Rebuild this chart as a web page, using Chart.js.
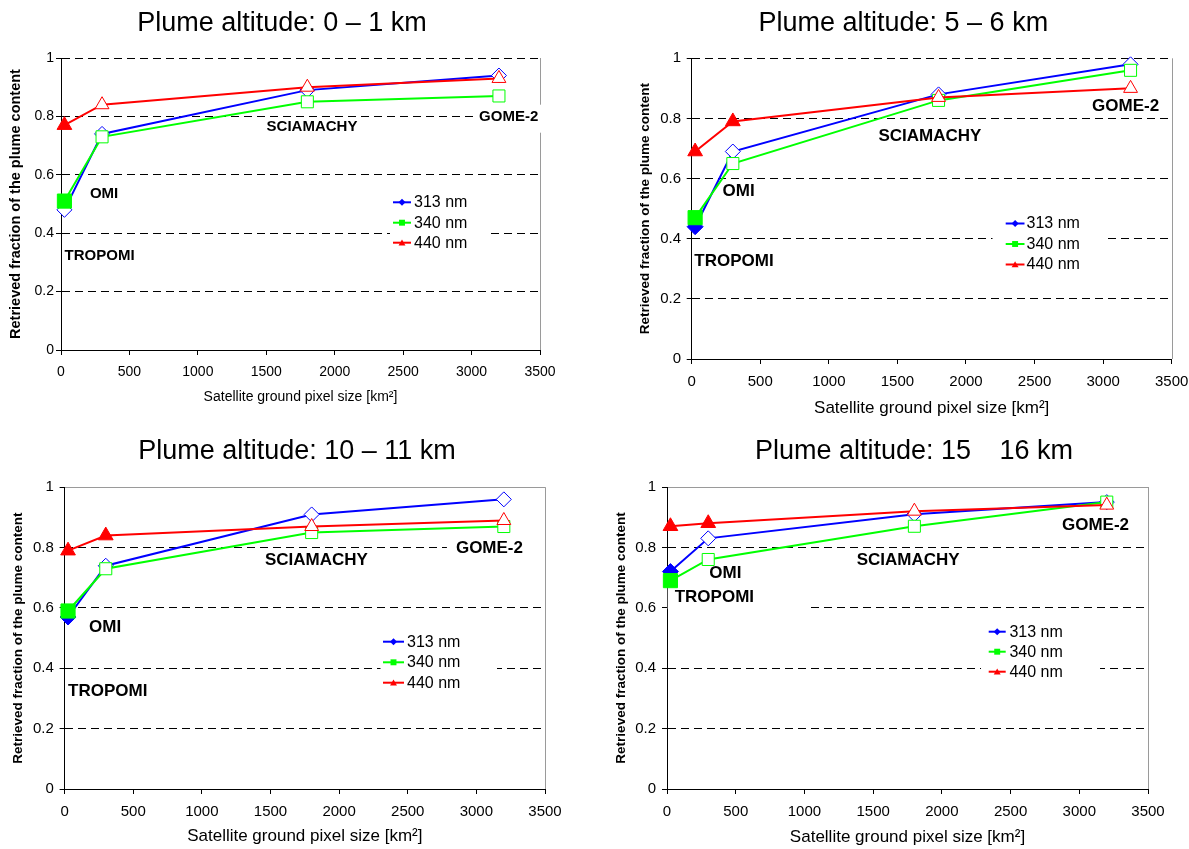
<!DOCTYPE html>
<html><head><meta charset="utf-8">
<script src="https://cdn.jsdelivr.net/npm/chart.js@4"></script>
<style>
html,body{margin:0;padding:0;background:#fff;width:1189px;height:849px;overflow:hidden}
.box{position:absolute}
canvas{display:block}
</style></head><body>
<div class="box" style="left:0px;top:0px"><canvas id="c0" width="594" height="428"></canvas></div>
<div class="box" style="left:594px;top:0px"><canvas id="c1" width="595" height="428"></canvas></div>
<div class="box" style="left:0px;top:428px"><canvas id="c2" width="594" height="421"></canvas></div>
<div class="box" style="left:594px;top:428px"><canvas id="c3" width="595" height="421"></canvas></div>
<script>
// ---------------- data ----------------
const pixelSizes = [25, 300, 1800, 3200];           // km², TROPOMI, OMI, SCIAMACHY, GOME-2
const instruments = ['TROPOMI', 'OMI', 'SCIAMACHY', 'GOME-2'];
const seriesNames = ['313 nm', '340 nm', '440 nm'];
const titles = ['Plume altitude: 0 \u2013 1 km', 'Plume altitude: 5 \u2013 6 km',
                'Plume altitude: 10 \u2013 11 km', 'Plume altitude: 15 \u2002 16 km'];
const xTickValues = [0, 500, 1000, 1500, 2000, 2500, 3000, 3500];
const xTickLabels = ['0', '500', '1000', '1500', '2000', '2500', '3000', '3500'];
const yTickValues = [0, 0.2, 0.4, 0.6, 0.8, 1];
const yTickLabels = ['0', '0.2', '0.4', '0.6', '0.8', '1'];
const xAxisTitle = 'Satellite ground pixel size [km\u00b2]';
const yAxisTitle = 'Retrieved fraction of the plume content';

const alt0_313 = [0.48, 0.74, 0.89, 0.94];
const alt0_340 = [0.51, 0.73, 0.85, 0.87];
const alt0_440 = [0.77, 0.84, 0.90, 0.93];

const alt5_313 = [0.44, 0.69, 0.88, 0.98];
const alt5_340 = [0.47, 0.65, 0.86, 0.96];
const alt5_440 = [0.69, 0.79, 0.87, 0.90];

const alt10_313 = [0.57, 0.74, 0.91, 0.96];
const alt10_340 = [0.59, 0.73, 0.85, 0.87];
const alt10_440 = [0.79, 0.84, 0.87, 0.89];

const alt15_313 = [0.72, 0.83, 0.91, 0.95];
const alt15_340 = [0.69, 0.76, 0.87, 0.95];
const alt15_440 = [0.87, 0.88, 0.92, 0.94];

// label anchor points (data units) for instrument names
const annX0 = [26, 211, 1502, 3055],  annY0 = [0.322, 0.534, 0.763, 0.799];
const annX5 = [19, 225, 1362, 2919],  annY5 = [0.324, 0.556, 0.742, 0.839];
const annX10 = [25, 178, 1460, 2851], annY10 = [0.3225, 0.536, 0.759, 0.799];
const annX15 = [56, 308, 1380, 2874], annY15 = [0.635, 0.714, 0.756, 0.874];

// ---------------- styles ----------------
const FAM = '"Liberation Sans", Arial, Helvetica, sans-serif';
const seriesColors = ['#0000ff', '#00ff00', '#ff0000'];
const seriesStyles = ['rectRot', 'rect', 'triangle'];
const hollowR = [7.5, 8.5, 8];
const filledR = [8, 10, 8.5];
const filledFlags = [
  [[0,0,0,0],[1,0,0,0],[1,0,0,0]],
  [[1,0,0,0],[1,0,0,0],[1,1,0,0]],
  [[1,0,0,0],[1,0,0,0],[1,1,0,0]],
  [[1,0,0,0],[1,0,0,0],[1,1,0,0]]
];
const panelSeries = [
  [alt0_313, alt0_340, alt0_440],
  [alt5_313, alt5_340, alt5_440],
  [alt10_313, alt10_340, alt10_440],
  [alt15_313, alt15_340, alt15_440]
];
const panelAnn = [[annX0, annY0], [annX5, annY5], [annX10, annY10], [annX15, annY15]];

const layouts = [
  { w:594, h:428, area:{l:61, r:540, t:58, b:350}, title:{x:282, y:31},
    fs:{tick:14, xt:14, yt:14.5, ann:15, leg:16}, yTitlePad:7.3, yTickPad:2, xTickPad:8.6, xTitlePad:22.6,
    solidTop:false,
    legend:{x1:393, x2:411, tx:414, rows:[202.3, 222.7, 242.7], box:[390, 190, 100, 64]},
    annBoxes:{3:[-4, -12, 68, 28]} },
  { w:595, h:428, area:{l:97.7, r:577.7, t:58.3, b:359}, title:{x:309.3, y:31},
    fs:{tick:15, xt:17, yt:13.5, ann:17, leg:16}, yTitlePad:43.2, yTickPad:5.7, xTickPad:8.7, xTitlePad:9.8,
    solidTop:false,
    legend:{x1:411.7, x2:430.5, tx:432.5, rows:[223.5, 244, 264.5], box:[398.5, 210, 115, 67]},
    annBoxes:{} },
  { w:594, h:421, area:{l:64.6, r:545, t:59.3, b:361}, title:{x:297, y:30.7},
    fs:{tick:15, xt:17, yt:13.5, ann:17, leg:16}, yTitlePad:9.9, yTickPad:5.8, xTickPad:8.7, xTitlePad:2.1,
    solidTop:true,
    legend:{x1:383, x2:404, tx:407, rows:[213.7, 234.3, 254.7], box:[380.5, 201, 116.5, 66]},
    annBoxes:{3:[-9, -12, 97, 24]} },
  { w:595, h:421, area:{l:73, r:554, t:59, b:361}, title:{x:320, y:30.7},
    fs:{tick:15, xt:17, yt:13.5, ann:17, leg:16}, yTitlePad:18.7, yTickPad:6, xTickPad:9, xTitlePad:1.8,
    solidTop:true,
    legend:{x1:394.7, x2:411.7, tx:415.4, rows:[203.7, 223.7, 243.7], box:[387, 191, 119, 66]},
    annBoxes:{0:[-7, -12, 143, 24]} }
];

function markerPath(ctx, style, x, y, r) {
  ctx.beginPath();
  if (style === 'rectRot') {
    ctx.moveTo(x, y - r); ctx.lineTo(x + r, y); ctx.lineTo(x, y + r); ctx.lineTo(x - r, y); ctx.closePath();
  } else if (style === 'rect') {
    const s = r * Math.SQRT1_2; ctx.rect(x - s, y - s, 2 * s, 2 * s);
  } else {
    const half = r * Math.sqrt(3) / 2;
    ctx.moveTo(x, y - r); ctx.lineTo(x + half, y + r / 2); ctx.lineTo(x - half, y + r / 2); ctx.closePath();
  }
}

function makePlugin(idx) {
  const L = layouts[idx];
  const [ax, ay] = panelAnn[idx];
  return {
    id: 'panelDecor' + idx,
    beforeDraw(chart) {
      const ctx = chart.ctx, a = chart.chartArea;
      ctx.save();
      ctx.strokeStyle = '#9a9a9a'; ctx.lineWidth = 1;
      ctx.beginPath();
      const rx = Math.round(a.right) + 0.5;
      ctx.moveTo(rx, a.bottom); ctx.lineTo(rx, a.top);
      if (L.solidTop) { const ty = Math.round(a.top) + 0.5; ctx.moveTo(a.left, ty); ctx.lineTo(rx, ty); }
      ctx.stroke();
      // title
      ctx.fillStyle = '#000';
      ctx.font = '27px ' + FAM;
      ctx.textAlign = 'center'; ctx.textBaseline = 'alphabetic';
      ctx.fillText(titles[idx], L.title.x, L.title.y);
      ctx.restore();
    },
    beforeDatasetsDraw(chart) {
      const ctx = chart.ctx, xs = chart.scales.x, ys = chart.scales.y;
      ctx.save();
      ctx.fillStyle = '#fff';
      Object.keys(L.annBoxes).forEach(k => {
        const b = L.annBoxes[k];
        const px = xs.getPixelForValue(ax[k]), py = ys.getPixelForValue(ay[k]);
        ctx.fillRect(px + b[0], py + b[1], b[2], b[3]);
      });
      const lb = L.legend.box;
      ctx.fillRect(lb[0], lb[1], lb[2], lb[3]);
      ctx.restore();
    },
    afterDatasetsDraw(chart) {
      const ctx = chart.ctx, xs = chart.scales.x, ys = chart.scales.y;
      ctx.save();
      ctx.fillStyle = '#000';
      ctx.font = 'bold ' + L.fs.ann + 'px ' + FAM;
      ctx.textAlign = 'left'; ctx.textBaseline = 'middle';
      instruments.forEach((name, k) => {
        ctx.fillText(name, xs.getPixelForValue(ax[k]), ys.getPixelForValue(ay[k]));
      });
      // legend
      const lg = L.legend;
      seriesNames.forEach((name, s) => {
        const y = lg.rows[s];
        ctx.strokeStyle = seriesColors[s]; ctx.lineWidth = 2;
        ctx.beginPath(); ctx.moveTo(lg.x1, y); ctx.lineTo(lg.x2, y); ctx.stroke();
        const r = s === 0 ? 3.5 : (s === 1 ? 4.2 : 4);
        markerPath(ctx, seriesStyles[s], (lg.x1 + lg.x2) / 2, y + (s === 2 ? 0.8 : 0), r);
        ctx.fillStyle = seriesColors[s]; ctx.fill();
        ctx.fillStyle = '#000';
        ctx.font = L.fs.leg + 'px ' + FAM;
        ctx.textBaseline = 'middle';
        ctx.fillText(name, lg.tx, y + 0.5);
      });
      ctx.restore();
    }
  };
}

function buildChart(idx) {
  const L = layouts[idx];
  const datasets = panelSeries[idx].map((vals, s) => {
    const flags = filledFlags[idx][s];
    return {
      label: seriesNames[s],
      data: pixelSizes.map((x, i) => ({ x: x, y: vals[i] })),
      borderColor: seriesColors[s],
      borderWidth: 2,
      tension: 0,
      fill: false,
      pointStyle: seriesStyles[s],
      pointRadius: flags.map(f => f ? filledR[s] : hollowR[s]),
      pointBackgroundColor: flags.map(f => f ? seriesColors[s] : '#ffffff'),
      pointBorderColor: seriesColors[s],
      pointBorderWidth: 1,
      order: 3 - s,
      clip: false
    };
  });
  const zeroPad = s => { s.paddingLeft = 0; s.paddingRight = 0; s.paddingTop = 0; s.paddingBottom = 0; };
  return new Chart(document.getElementById('c' + idx), {
    type: 'line',
    data: { datasets: datasets },
    options: {
      responsive: false,
      animation: false,
      devicePixelRatio: 1,
      events: [],
      layout: { padding: { left: 0, top: L.area.t, right: L.w - L.area.r, bottom: 0 } },
      plugins: { legend: { display: false }, tooltip: { enabled: false }, title: { display: false } },
      scales: {
        x: {
          type: 'linear', position: 'bottom', min: 0, max: 3500,
          afterBuildTicks: s => { s.ticks = xTickValues.map(v => ({ value: v })); },
          ticks: {
            autoSkip: false, maxRotation: 0, minRotation: 0, padding: L.xTickPad, color: '#000',
            font: { size: L.fs.tick, family: FAM },
            callback: v => xTickLabels[xTickValues.indexOf(v)]
          },
          grid: { drawOnChartArea: false, drawTicks: true, tickLength: 5, color: '#000', tickColor: '#000', lineWidth: 1 },
          border: { display: true, color: '#000', width: 1 },
          title: { display: true, text: xAxisTitle, color: '#000', font: { size: L.fs.xt, family: FAM },
                   padding: { top: 0, bottom: L.xTitlePad } },
          afterFit: s => { s.height = L.h - L.area.b; zeroPad(s); }
        },
        y: {
          type: 'linear', position: 'left', min: 0, max: 1,
          afterBuildTicks: s => { s.ticks = yTickValues.map(v => ({ value: v })); },
          ticks: {
            padding: L.yTickPad, color: '#000', font: { size: L.fs.tick, family: FAM },
            callback: v => yTickLabels[yTickValues.findIndex(t => Math.abs(t - v) < 1e-9)]
          },
          grid: {
            drawOnChartArea: true, drawTicks: true, tickLength: 5, tickColor: '#000', lineWidth: 1,
            color: c => {
              const v = c.tick ? c.tick.value : null;
              if (v === 0 || (L.solidTop && v === 1)) return 'rgba(0,0,0,0)';
              return '#000';
            }
          },
          border: { display: true, color: '#000', width: 1, dash: [8, 5] },
          title: { display: true, text: yAxisTitle, color: '#000',
                   font: { size: L.fs.yt, family: FAM, weight: 'bold' },
                   padding: { top: L.yTitlePad, bottom: 0 } },
          afterFit: s => { s.width = L.area.l; zeroPad(s); }
        }
      }
    },
    plugins: [makePlugin(idx)]
  });
}

[0, 1, 2, 3].forEach(buildChart);
</script>
</body></html>
